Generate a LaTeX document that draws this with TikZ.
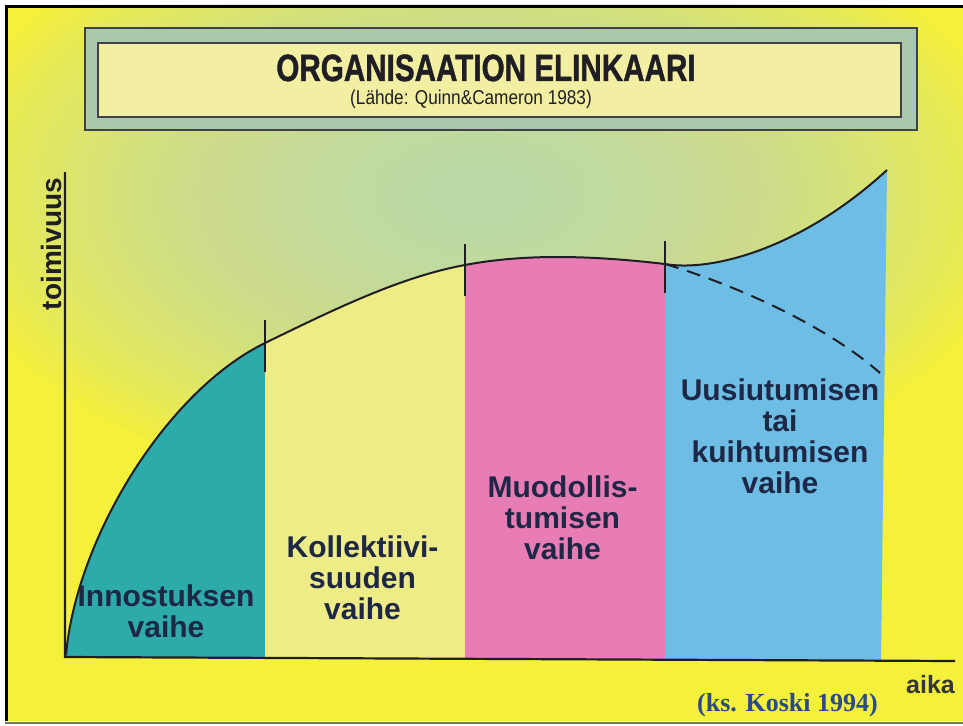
\documentclass[tikz,border=0pt]{standalone}
\usepackage{fontspec}
\setmainfont{Liberation Sans}
\newfontfamily\citefont{Liberation Serif}
\newfontfamily\titlefont[FakeBold=1.2]{Liberation Sans Bold}
\usepackage{graphicx}
\definecolor{bgyellow}{HTML}{F5F03A}
\definecolor{glow}{HTML}{BCDAC6}
\definecolor{tealc}{HTML}{2DAAAA}
\definecolor{paley}{HTML}{EEEC86}
\definecolor{pinkc}{HTML}{E77DB4}
\definecolor{bluec}{HTML}{6DBDE5}
\definecolor{titleouter}{HTML}{A9C9AE}
\definecolor{titleinner}{HTML}{F2EEA2}
\definecolor{navy}{HTML}{1F2746}
\definecolor{citeblue}{HTML}{2A4A8C}
\definecolor{inkc}{HTML}{1E1E24}
\definecolor{bottomline}{HTML}{77775A}
\newcommand\undercurve[1]{\fill[#1] (66,657) -- (66,655) .. controls (76,540) and (165,392) .. (265,343) .. controls (335,309) and (400,277) .. (465,265) .. controls (530,252.6) and (600,256.5) .. (665,264) .. controls (710,272) and (800,250) .. (887,170) -- (881,660.7) -- cycle;}
\tikzset{
  curveline/.style={draw=inkc, line width=2pt},
  tickline/.style={draw=inkc, line width=2.6pt},
  axisline/.style={draw=inkc, line width=2.2pt},
  boxline/.style={draw=inkc!85, line width=2pt},
  glowlayer/.style={fill=glow, fill opacity=0.048},
  stagelabel/.style={font=\fontsize{30}{31}\selectfont\bfseries, text=navy, align=center, anchor=north, inner sep=0pt},
}
\begin{document}
\begin{tikzpicture}[x=1pt, y=-1pt]
\useasboundingbox (0,0) rectangle (963,725);
% background
\fill[white] (0,0) rectangle (963,725);
\fill[bgyellow] (5,5) rectangle (963,721);
\begin{scope}
  \clip (5,5) rectangle (963,721);
  \foreach \i in {0,...,37} {
    \fill[glowlayer] (480,195) ellipse[x radius={540*(1-\i/40)}, y radius={310*(1-\i/40)}];
  }
\end{scope}
\draw[black, line width=2.5pt] (6.5,721) -- (6.5,6.5) -- (963,6.5);
\draw[bottomline, line width=2pt] (5,722.5) -- (963,722.5);
% title boxes
\draw[boxline, fill=titleouter] (85,28) rectangle (917,130);
\draw[boxline, fill=titleinner] (98,43) rectangle (901,117);
\node[font=\titlefont\fontsize{38}{40}\selectfont, text=inkc, anchor=base, inner sep=0pt] (title) at (486,81) {\scalebox{0.78}[1]{ORGANISAATION ELINKAARI}};
\node[font=\fontsize{20}{22}\selectfont, text=inkc, anchor=base, inner sep=0pt] (subtitle) at (471,104) {\scalebox{0.86}[1]{(Lähde: Quinn\&Cameron 1983)}};
% stage regions
\begin{scope}\clip (66,0) rectangle (265,725); \undercurve{tealc} \end{scope}
\begin{scope}\clip (265,0) rectangle (465,725); \undercurve{paley} \end{scope}
\begin{scope}\clip (465,0) rectangle (665,725); \undercurve{pinkc} \end{scope}
\begin{scope}\clip (665,0) rectangle (963,725); \undercurve{bluec} \end{scope}
% curve
\draw[curveline] (66,655) .. controls (76,540) and (165,392) .. (265,343) .. controls (335,309) and (400,277) .. (465,265) .. controls (530,252.6) and (600,256.5) .. (665,264) .. controls (710,272) and (800,250) .. (887,170);
\draw[curveline, dash pattern=on 14pt off 9pt] (665,264) .. controls (720,280) and (820,320) .. (880,373);
% ticks
\draw[tickline] (265,320) -- (265,372);
\draw[tickline] (465,244) -- (465,296);
\draw[tickline] (665,241) -- (665,293);
% axes
\coordinate (ytop) at (65,172);
\coordinate (origin) at (65,657);
\coordinate (xend) at (955,661);
\draw[axisline] (ytop) -- (origin) -- (xend);
\node[rotate=90, anchor=base, font=\fontsize{28}{30}\selectfont\bfseries, text=inkc, inner sep=0pt] (ylabel) at (61,244) {toimivuus};
\node[anchor=base east, font=\fontsize{25}{27}\selectfont\bfseries, text=inkc!90, inner sep=0pt] (xlabel) at (955,693) {aika};
% stage labels
\node[stagelabel] (stage1) at (166,585) {Innostuksen\\vaihe};
\node[stagelabel] (stage2) at (362.5,536) {Kollektiivi-\\suuden\\vaihe};
\node[stagelabel] (stage3) at (562.5,476) {Muodollis-\\tumisen\\vaihe};
\node[stagelabel] (stage4) at (780,379) {Uusiutumisen\\tai\\kuihtumisen\\vaihe};
% citation
\node[anchor=base, font=\citefont\fontsize{26}{28}\selectfont\bfseries, text=citeblue, inner sep=0pt] (cite) at (787.5,711) {(ks. Koski 1994)};
\end{tikzpicture}
\end{document}
